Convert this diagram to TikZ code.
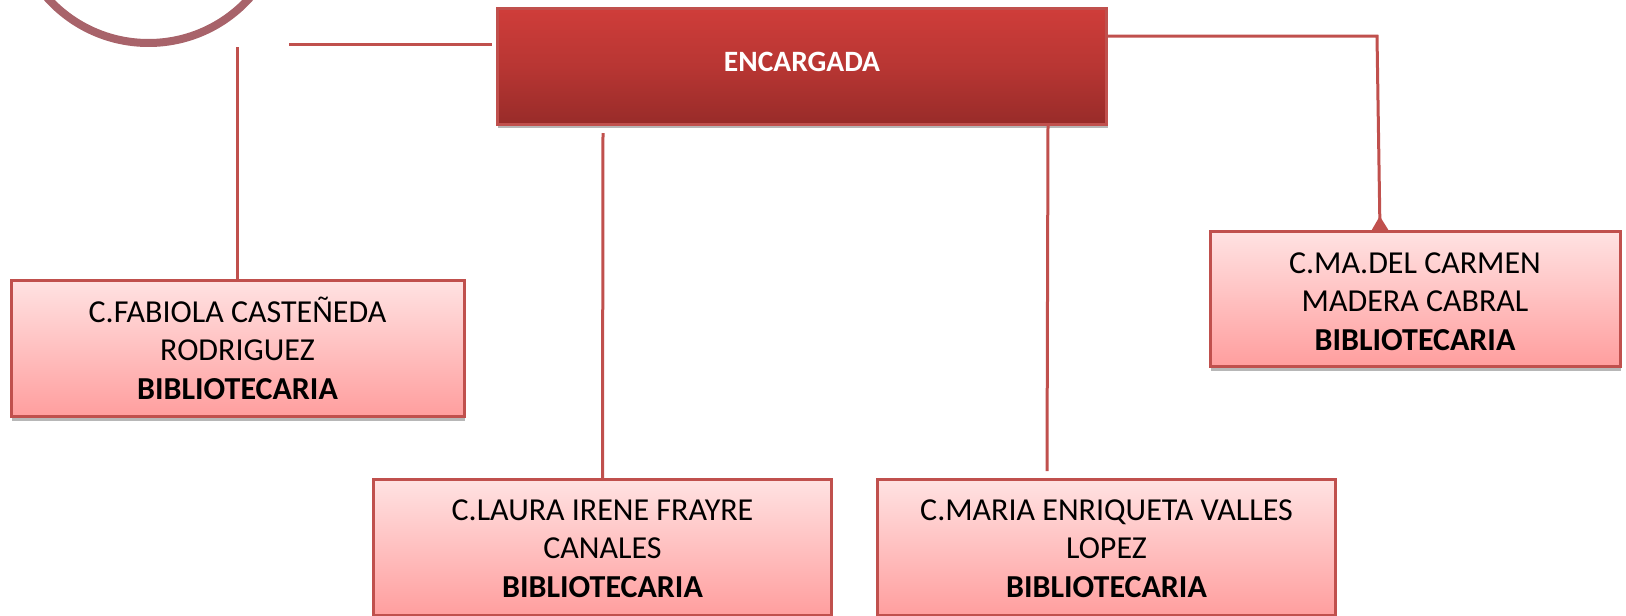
\documentclass[tikz,border=0pt]{standalone}
\usepackage{color}
\usepackage{fontspec}
\setmainfont{Carlito}
\usepackage{tikz}
\usetikzlibrary{shadows,arrows.meta}

\definecolor{lineared}{HTML}{C0504D}
\definecolor{ringred}{HTML}{A8636A}
\definecolor{headtop}{HTML}{CF3D3A}
\definecolor{headmid}{HTML}{B83633}
\definecolor{headbot}{HTML}{982B29}
\definecolor{persontop}{HTML}{FFE2E2}
\definecolor{personbot}{HTML}{FF9E9E}

\newcommand{\firstline}[1]{\rule{0pt}{#1pt}}

\begin{document}
\begin{tikzpicture}[x=1pt, y=-1pt,
    softshadow/.style={drop shadow={shadow xshift=1pt, shadow yshift=-4pt, fill=black!70, opacity=0.4}},
    personbox/.style={draw=lineared, line width=3pt, rectangle, top color=persontop, bottom color=personbot,
      minimum width=#1, align=center, text=black,
      font=\fontsize{32}{38.6}\selectfont, softshadow},
    personbox/.default=453pt,
    headbox/.style={draw=lineared, line width=3pt, rectangle, top color=headtop, bottom color=headbot,
      middle color=headmid, minimum width=609.5pt, minimum height=116pt, text=white,
      font=\fontsize{29.5}{34}\bfseries\selectfont, softshadow},
    ring/.style={draw=ringred, line width=8pt, circle, minimum size=272pt, inner sep=0pt},
    link/.style={draw=lineared, line width=3pt}
  ]

  \useasboundingbox (0,0) rectangle (1626,616);

  % logo, only its lower part shows
  \begin{scope}
    \clip (0,0) rectangle (300,46.5);
    \node[ring] (logo) at (148.5,-93) {};
  \end{scope}

  \node[headbox, text depth=9pt] (encargada) at (802,66.3) {ENCARGADA};

  \node[personbox, minimum height=136.5pt] (fabiola) at (237.5,348.3) {C.FABIOLA CASTE\~NEDA \\RODRIGUEZ \\\textbf{BIBLIOTECARIA}};
  \node[personbox=458pt, minimum height=136pt] (laura) at (602.5,547.5) {\firstline{23}C.LAURA IRENE FRAYRE \\CANALES \\\textbf{BIBLIOTECARIA}};
  \node[personbox=458pt, minimum height=136pt] (maria) at (1106.5,547.5) {\firstline{23}C.MARIA ENRIQUETA VALLES \\LOPEZ \\\textbf{BIBLIOTECARIA}};
  \node[personbox=410pt, minimum height=135.5pt] (carmen) at (1415,299) {\firstline{26}C.MA.DEL CARMEN \\MADERA CABRAL \\\textbf{BIBLIOTECARIA}};

  % free ends of the connectors
  \coordinate (logoright) at (289,44.5);
  \coordinate (encleft) at (492,44.5);
  \coordinate (logobottom) at (237.5,47);
  \coordinate (enclaura) at (603,133);
  \coordinate (encmaria) at (1048,125);
  \coordinate (mariatop) at (1047,471);
  \coordinate (enccarmen) at (1108,36);
  \coordinate (carmenbend) at (1377,36);
  \coordinate (carmentop) at (1380,231);

  \draw[link] (logoright) -- (encleft);
  \draw[link] (logobottom) -- (logobottom |- fabiola.north);
  \draw[link] (enclaura) -- (laura.north);
  \draw[link] (encmaria) -- (mariatop);
  \draw[link, -{Triangle[reversed, length=15pt, width=17pt]}] (enccarmen) -- (carmenbend) -- (carmentop);

\end{tikzpicture}
\end{document}
